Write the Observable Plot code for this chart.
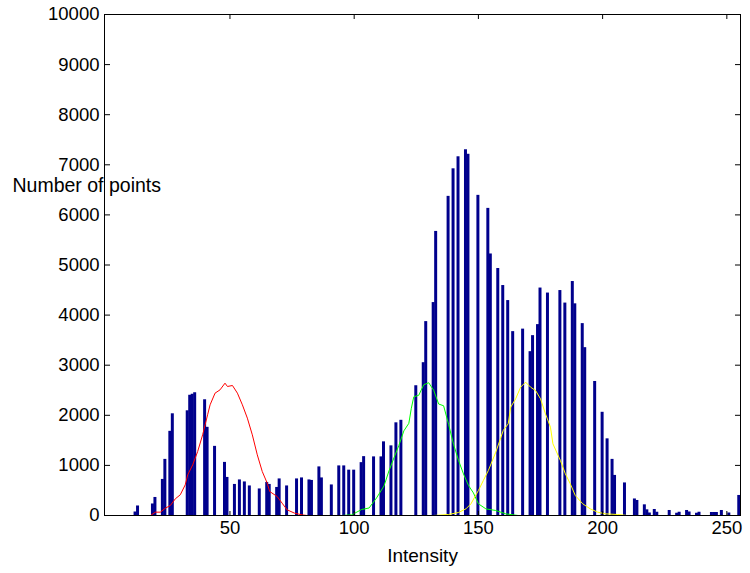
<!DOCTYPE html>
<html><head><meta charset="utf-8">
<script src="https://cdn.jsdelivr.net/npm/d3@7"></script>
<script src="https://cdn.jsdelivr.net/npm/@observablehq/plot@0.6"></script>
<style>
html,body{margin:0;padding:0;background:#fff}
#chart svg{font-family:"Liberation Sans",Arial,Helvetica,sans-serif;background:#fff;overflow:visible}
</style>
</head><body><div id="chart"></div>
<script>
// Histogram bins (intensity) and counts
const binIntensity = [12,13,19,20,23,24,26,27,33,34,35,36,40,41,44,48,49,52,54,56,58,62,65,66,69,70,73,77,79,82,83,86,87,91,94,96,98,100,103,104,108,111,112,115,117,119,125,128,129,132,133,138,140,142,145,146,150,154,155,158,160,162,164,168,171,172,174,175,178,183,185,188,189,192,193,197,200,202,204,205,209,213,214,217,218,219,221,222,227,230,231,234,235,238,239,244,245,246,248,251,255];
const binCount = [70,190,230,360,720,1120,1680,2030,2090,2400,2420,2450,2310,1760,1380,1060,760,620,710,670,590,530,660,620,560,730,590,730,750,710,700,970,750,610,990,990,905,905,1055,1175,1170,1170,1470,1390,1850,1900,2590,3050,3870,4250,5670,6370,6920,7160,7300,7210,6390,6130,5220,4930,4590,4290,3670,3720,3270,3590,3810,4540,4440,4490,4240,4670,4225,3830,3350,2675,2060,1530,1120,800,650,330,300,213,113,50,120,65,100,45,65,100,70,45,65,60,60,60,100,50,400];

// Fitted curves
const redX = [0,18,20,22,24,26,28,30,32,33,35,37,39,41,42,44,46,48,49,51,53,55,57,59,61,63,65,66,69,71,73,76,79,81,255];
const redY = [0,0,67,67,146,200,333,413,612,812,1011,1277,1610,2010,2209,2442,2508,2641,2575,2595,2442,2209,1943,1610,1211,878,645,479,379,246,113,47,13,0,0];
const greenX = [0,95,99,103,106,109,112,114,116,118,120,122,123,124,126,128,130,132,134,136,138,140,142,144,146,148,150,153,157,161,166,255];
const greenY = [0,0,13,120,150,350,590,890,1150,1400,1690,1840,2140,2370,2400,2610,2650,2500,2225,2190,1820,1420,1100,830,600,450,233,133,100,33,0,0];
const yellowX = [0,132,138,142,145,147,150,152,154,157,160,162,163,165,167,169,171,173,175,177,179,180,183,185,187,189,192,195,198,201,206,210,255];
const yellowY = [0,0,20,60,133,233,499,699,898,1264,1697,1830,2162,2329,2562,2661,2562,2495,2329,2029,1763,1430,1098,832,632,399,233,133,67,33,20,0,0];

const xTicks = [50,100,150,200,250];
const yTicks = [0,1000,2000,3000,4000,5000,6000,7000,8000,9000,10000];
const xLabel = "Intensity";
const yLabel = "Number of points";

const bars = binIntensity.map((v,i)=>({v, c: binCount[i]}));
const toPts = (xs, ys) => xs.map((v,i)=>({v, c: ys[i]}));
const red = toPts(redX, redY), green = toPts(greenX, greenY), yellow = toPts(yellowX, yellowY);

const fmt = d3.format("d");
const chart = Plot.plot({
  width: 750, height: 573,
  marginLeft: 104, marginRight: 10, marginTop: 14, marginBottom: 58,
  x: {domain: [-0.5, 255.5]},
  y: {domain: [0, 10000]},
  style: {fontSize: "18px", color: "#000"},
  marks: [
    Plot.rect(bars, {x1: d => d.v - 0.6, x2: d => d.v + 0.6, y1: 0, y2: "c", fill: "#00008c", inset: 0}),
    Plot.line(red, {x: "v", y: "c", stroke: "#ff0000", strokeWidth: 1}),
    Plot.line(green, {x: "v", y: "c", stroke: "#00ff00", strokeWidth: 1}),
    Plot.line(yellow, {x: "v", y: "c", stroke: "#ffff00", strokeWidth: 1}),
    Plot.frame({stroke: "#000", strokeWidth: 1}),
    Plot.axisY(yTicks, {anchor: "left", tickSize: 0, tickPadding: 5, tickFormat: fmt, fontSize: 18.5, label: null}),
    Plot.axisY(yTicks, {anchor: "right", frameAnchor: "left", tickSize: 5, fill: "none", label: null}),
    Plot.axisY(yTicks, {anchor: "left", frameAnchor: "right", tickSize: 5, fill: "none", label: null}),
    Plot.axisX(xTicks, {anchor: "bottom", tickSize: 0, tickPadding: 5, tickFormat: fmt, fontSize: 18.5, label: null}),
    Plot.axisX(xTicks, {anchor: "top", frameAnchor: "bottom", tickSize: 5, fill: "none", label: null}),
    Plot.axisX(xTicks, {anchor: "bottom", frameAnchor: "top", tickSize: 5, fill: "none", label: null}),
    Plot.text([xLabel], {text: d => d, frameAnchor: "bottom", dy: 40, lineAnchor: "middle", fontSize: 19}),
    Plot.text([yLabel], {text: d => d, frameAnchor: "left", textAnchor: "start", dx: -92, dy: -79, lineAnchor: "middle", fontSize: 19.5})
  ]
});
document.getElementById("chart").appendChild(chart);
</script>
</body></html>
